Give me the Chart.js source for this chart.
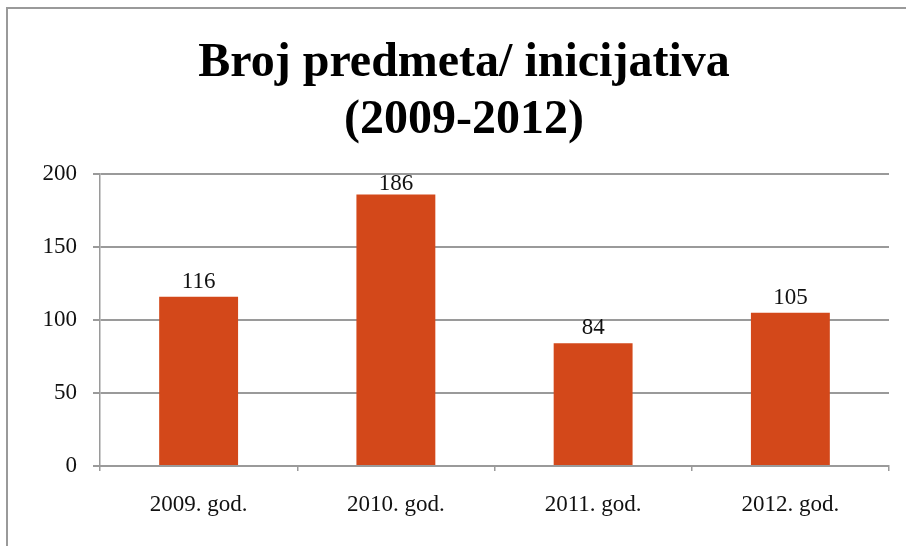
<!DOCTYPE html>
<html>
<head>
<meta charset="utf-8">
<script src="https://cdn.jsdelivr.net/npm/chart.js@4"></script>
<style>
  html, body { margin: 0; padding: 0; background: #fff; }
  #wrap { position: relative; width: 906px; height: 546px; overflow: hidden; }
  #okvir { position: absolute; left: 6px; top: 7px; width: 1000px; height: 700px;
           border-left: 2px solid #9a9a9a; border-top: 2px solid #9a9a9a; }
  canvas { position: absolute; left: 0; top: 0; }
</style>
</head>
<body>
<div id="wrap">
  <div id="okvir"></div>
  <canvas id="grafik" width="906" height="546"></canvas>
</div>
<script>
// podaci sa slike
const godine = ['2009. god.', '2010. god.', '2011. god.', '2012. god.'];
const brojPredmeta = [116, 186, 84, 105];
const naslov = ['Broj predmeta/ inicijativa', '(2009-2012)'];

const serif = '"Liberation Serif", "Times New Roman", serif';

// naslov u dva reda, centriran iznad cijelog grafika
const naslovPlugin = {
    id: 'naslov',
    afterDraw(chart) {
        const ctx = chart.ctx;
        ctx.save();
        ctx.font = 'bold 48px ' + serif;
        ctx.fillStyle = '#000';
        ctx.textAlign = 'center';
        ctx.textBaseline = 'alphabetic';
        ctx.fillText(naslov[0], 464, 76);
        ctx.fillText(naslov[1], 464, 133);
        ctx.restore();
    }
};

// natpisi iznad stubova
const natpisiPlugin = {
    id: 'natpisi',
    afterDatasetsDraw(chart) {
        const ctx = chart.ctx;
        const meta = chart.getDatasetMeta(0);
        ctx.save();
        ctx.font = '23px ' + serif;
        ctx.fillStyle = '#111';
        ctx.textAlign = 'center';
        ctx.textBaseline = 'alphabetic';
        meta.data.forEach((bar, i) => {
            ctx.fillText(String(brojPredmeta[i]), bar.x, Math.max(bar.y - 9, 190));
        });
        ctx.restore();
    }
};

const ctx = document.getElementById('grafik').getContext('2d');
new Chart(ctx, {
    type: 'bar',
    data: {
        labels: godine,
        datasets: [{
            data: brojPredmeta,
            backgroundColor: '#D3481A',
            barPercentage: 0.4,
            categoryPercentage: 1
        }]
    },
    options: {
        responsive: false,
        animation: false,
        layout: { padding: { top: 174, right: 17, bottom: 0, left: 0 } },
        plugins: {
            legend: { display: false },
            tooltip: { enabled: false },
            title: { display: false }
        },
        scales: {
            x: {
                afterFit: scale => { scale.height = 80; },
                border: { color: '#9a9a9a', width: 2 },
                grid: { drawOnChartArea: false, drawTicks: true, tickLength: 5, color: '#9a9a9a', lineWidth: 1.5 },
                ticks: {
                    color: '#111',
                    padding: 20,
                    font: { family: serif, size: 23 }
                }
            },
            y: {
                min: 0,
                max: 200,
                afterFit: scale => { scale.width = 100; },
                border: { color: '#9a9a9a', width: 1.5 },
                grid: { color: '#9a9a9a', lineWidth: 2, tickLength: 7 },
                ticks: {
                    stepSize: 50,
                    color: '#111',
                    padding: 16,
                    font: { family: serif, size: 23 }
                }
            }
        }
    },
    plugins: [natpisiPlugin, naslovPlugin]
});
</script>
</body>
</html>
